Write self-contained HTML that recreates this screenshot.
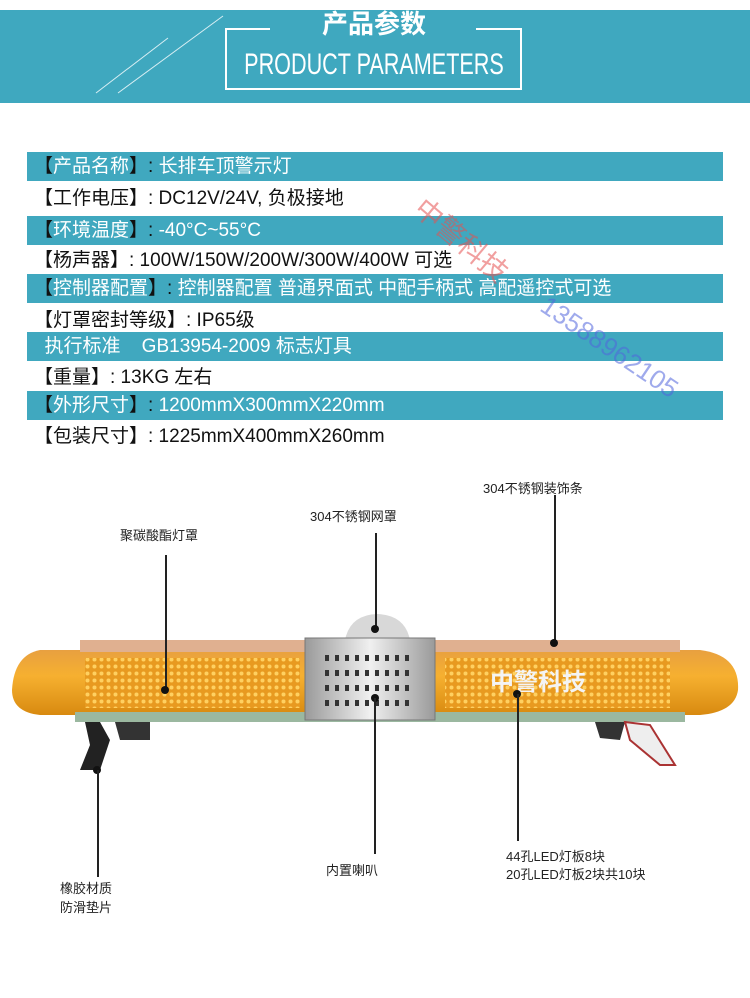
<!DOCTYPE html>
<html><head><meta charset="utf-8"><style>
*{margin:0;padding:0;box-sizing:border-box}
body{width:750px;height:998px;background:#fff;position:relative;overflow:hidden;font-family:"Liberation Sans","Noto Sans CJK SC",sans-serif}
.abs{position:absolute}
.band{position:absolute;left:27px;width:696px;height:29px;background:#40a8bf}
.row{position:absolute;left:34px;font-size:19px;line-height:22px;white-space:nowrap;color:#111}
.w{color:#fff}
.lbl{position:absolute;font-size:13px;color:#222;white-space:nowrap;line-height:18px}
.vl{position:absolute;width:1.5px;background:#222}
.dot{position:absolute;width:8px;height:8px;border-radius:50%;background:#111}
</style></head><body>
<div class="abs" style="left:0;top:10px;width:750px;height:93px;background:#3fa8bf"></div>
<svg class="abs" style="left:0;top:0" width="750" height="110">
<line x1="96" y1="93" x2="168" y2="38" stroke="#d8eef3" stroke-width="1"/>
<line x1="118" y1="93" x2="223" y2="16" stroke="#d8eef3" stroke-width="1"/>
<polyline points="270,29 226,29 226,89 521,89 521,29 476,29" fill="none" stroke="#fff" stroke-width="2"/>
</svg>
<div class="abs" style="left:300px;top:8px;width:148px;text-align:center;color:#fff;font-size:26px;font-weight:bold;line-height:32px;white-space:nowrap">产品参数</div>
<div class="abs" style="left:174px;top:48px;width:400px;text-align:center;color:#fff;font-size:30px;line-height:34px;white-space:nowrap;transform:scaleX(0.72)">PRODUCT PARAMETERS</div>

<div class="band" style="top:152px"></div>
<div class="band" style="top:216px"></div>
<div class="band" style="top:274px"></div>
<div class="band" style="top:332px"></div>
<div class="band" style="top:391px"></div>

<div class="row" style="top:156px">【<span class="w">产品名称</span>】: <span class="w">长排车顶警示灯</span></div>
<div class="row" style="top:188px">【工作电压】: DC12V/24V, 负极接地</div>
<div class="row" style="top:220px">【<span class="w">环境温度</span>】: <span class="w">-40°C~55°C</span></div>
<div class="row" style="top:250px">【杨声器】: 100W/150W/200W/300W/400W 可选</div>
<div class="row" style="top:278px">【<span class="w">控制器配置</span>】: <span class="w">控制器配置 普通界面式 中配手柄式 高配遥控式可选</span></div>
<div class="row" style="top:310px">【灯罩密封等级】: IP65级</div>
<div class="row" style="top:336px"><span class="w">&nbsp;&nbsp;执行标准&nbsp;&nbsp;&nbsp;&nbsp;GB13954-2009 标志灯具</span></div>
<div class="row" style="top:367px">【重量】: 13KG 左右</div>
<div class="row" style="top:395px">【<span class="w">外形尺寸</span>】: <span class="w">1200mmX300mmX220mm</span></div>
<div class="row" style="top:426px">【包装尺寸】: 1225mmX400mmX260mm</div>

<div class="abs" style="left:432px;top:188px;font-size:28px;color:rgba(230,80,80,0.55);transform:rotate(40deg);transform-origin:0 0;white-space:nowrap">中警科技</div>
<div class="abs" style="left:552px;top:290px;font-size:26px;color:rgba(80,100,220,0.55);transform:rotate(34deg);transform-origin:0 0;white-space:nowrap">13588962105</div>

<svg class="abs" style="left:0;top:600px" width="750" height="200">
<defs>
<linearGradient id="am" x1="0" y1="0" x2="0" y2="1"><stop offset="0" stop-color="#e8a040"/><stop offset="0.4" stop-color="#f6b030"/><stop offset="1" stop-color="#d88a10"/></linearGradient>
<linearGradient id="sv" x1="0" y1="0" x2="1" y2="0"><stop offset="0" stop-color="#9a9a9a"/><stop offset="0.5" stop-color="#f0f0f0"/><stop offset="1" stop-color="#9a9a9a"/></linearGradient>
<pattern id="led" width="7" height="7" patternUnits="userSpaceOnUse"><rect width="7" height="7" fill="#e89a20"/><circle cx="3.5" cy="3.5" r="2" fill="#ffd060"/></pattern>
</defs>
<path d="M40,650 L700,650 Q740,655 738,690 Q735,712 700,715 L40,715 Q12,712 12,690 Q14,655 40,650Z" fill="url(#am)" transform="translate(0,-600)"/>
<rect x="80" y="40" width="600" height="12" fill="#e0b090"/>
<rect x="85" y="58" width="215" height="50" fill="url(#led)"/>
<rect x="445" y="58" width="225" height="50" fill="url(#led)"/>
<rect x="75" y="112" width="610" height="10" fill="#9bb8a0"/>
<path d="M345,40 Q350,15 377,14 Q405,15 410,40Z" fill="#d8d8d8"/>
<rect x="305" y="38" width="130" height="82" fill="url(#sv)" stroke="#777"/>
<g fill="#333">
<rect x="325" y="55" width="4" height="6"/><rect x="335" y="55" width="4" height="6"/><rect x="345" y="55" width="4" height="6"/><rect x="355" y="55" width="4" height="6"/><rect x="365" y="55" width="4" height="6"/><rect x="375" y="55" width="4" height="6"/><rect x="385" y="55" width="4" height="6"/><rect x="395" y="55" width="4" height="6"/><rect x="405" y="55" width="4" height="6"/>
<rect x="325" y="70" width="4" height="6"/><rect x="335" y="70" width="4" height="6"/><rect x="345" y="70" width="4" height="6"/><rect x="355" y="70" width="4" height="6"/><rect x="365" y="70" width="4" height="6"/><rect x="375" y="70" width="4" height="6"/><rect x="385" y="70" width="4" height="6"/><rect x="395" y="70" width="4" height="6"/><rect x="405" y="70" width="4" height="6"/>
<rect x="325" y="85" width="4" height="6"/><rect x="335" y="85" width="4" height="6"/><rect x="345" y="85" width="4" height="6"/><rect x="355" y="85" width="4" height="6"/><rect x="365" y="85" width="4" height="6"/><rect x="375" y="85" width="4" height="6"/><rect x="385" y="85" width="4" height="6"/><rect x="395" y="85" width="4" height="6"/><rect x="405" y="85" width="4" height="6"/>
<rect x="325" y="100" width="4" height="6"/><rect x="335" y="100" width="4" height="6"/><rect x="345" y="100" width="4" height="6"/><rect x="355" y="100" width="4" height="6"/><rect x="365" y="100" width="4" height="6"/><rect x="375" y="100" width="4" height="6"/><rect x="385" y="100" width="4" height="6"/><rect x="395" y="100" width="4" height="6"/><rect x="405" y="100" width="4" height="6"/>
</g>
<text x="490" y="90" font-size="24" font-weight="bold" fill="#f4f4f4" font-family="Liberation Sans,Noto Sans CJK SC,sans-serif">中警科技</text>
<path d="M85,122 L100,122 L110,140 L100,170 L80,170 L90,145Z" fill="#222"/>
<path d="M115,122 L150,122 L150,140 L120,140Z" fill="#333"/>
<path d="M595,122 L625,122 L620,140 L600,138Z" fill="#333"/>
<path d="M625,122 L650,125 L675,165 L660,165 L630,140Z" fill="#eee" stroke="#a33" stroke-width="2"/>
</svg>

<div class="lbl" style="left:120px;top:527px">聚碳酸酯灯罩</div>
<div class="vl" style="left:165px;top:555px;height:135px"></div><div class="dot" style="left:161px;top:686px"></div>
<div class="lbl" style="left:310px;top:508px">304不锈钢网罩</div>
<div class="vl" style="left:375px;top:533px;height:96px"></div><div class="dot" style="left:371px;top:625px"></div>
<div class="lbl" style="left:483px;top:480px">304不锈钢装饰条</div>
<div class="vl" style="left:554px;top:495px;height:148px"></div><div class="dot" style="left:550px;top:639px"></div>
<div class="dot" style="left:371px;top:694px"></div><div class="vl" style="left:374px;top:698px;height:156px"></div>
<div class="lbl" style="left:326px;top:862px">内置喇叭</div>
<div class="dot" style="left:513px;top:690px"></div><div class="vl" style="left:517px;top:694px;height:147px"></div>
<div class="lbl" style="left:506px;top:848px">44孔LED灯板8块</div>
<div class="lbl" style="left:506px;top:866px">20孔LED灯板2块共10块</div>
<div class="dot" style="left:93px;top:766px"></div><div class="vl" style="left:97px;top:770px;height:107px"></div>
<div class="lbl" style="left:60px;top:880px">橡胶材质</div>
<div class="lbl" style="left:60px;top:899px">防滑垫片</div>
</body></html>
